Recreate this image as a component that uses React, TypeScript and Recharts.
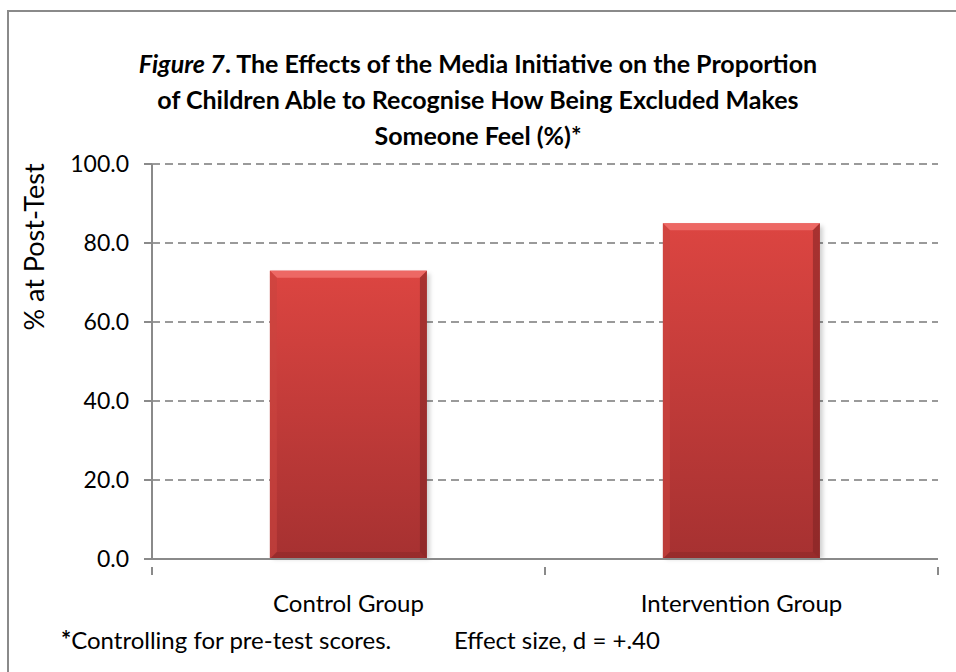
import React from 'react'
import { BarChart, Bar, XAxis, YAxis, CartesianGrid } from 'recharts'

// values
const groups = ['Control Group', 'Intervention Group']
const postTestPct = [73.0, 85.0]
const yTicks = [0, 20, 40, 60, 80, 100]

const chartData = groups.map((g, i) => ({ group: g, pct: postTestPct[i] }))

const FONT = 'Lato, "Open Sans", sans-serif'
const AXIS_GREY = '#8a8a8a'

const BevelBar = (props: any) => {
  const { x, y, width, height } = props
  if (!height || height <= 0) return null
  const b = Math.min(7, height / 2)
  return (
    <g>
      <rect x={x + 3} y={y + 3} width={width} height={height - 3} fill="rgba(0,0,0,0.18)" filter="url(#barShadow)" />
      <rect x={x} y={y} width={width} height={height} fill="url(#barGrad)" />
      {/* top bevel */}
      <polygon points={`${x},${y} ${x + width},${y} ${x + width - b},${y + b} ${x + b},${y + b}`} fill="#f06f6b" opacity={0.85} />
      {/* left bevel */}
      <polygon points={`${x},${y} ${x + b},${y + b} ${x + b},${y + height - b} ${x},${y + height}`} fill="#c94440" opacity={0.6} />
      {/* right bevel */}
      <polygon points={`${x + width},${y} ${x + width},${y + height} ${x + width - b},${y + height - b} ${x + width - b},${y + b}`} fill="#7e2222" opacity={0.55} />
      {/* bottom bevel */}
      <polygon points={`${x},${y + height} ${x + width},${y + height} ${x + width - b},${y + height - b} ${x + b},${y + height - b}`} fill="#8a2727" opacity={0.5} />
    </g>
  )
}

const GroupTick = (props: any) => {
  const { x, y, payload, index } = props
  const half = payload?.offset ?? 196.5
  return (
    <g>
      <line x1={x - half} y1={y} x2={x - half} y2={y + 8} stroke={AXIS_GREY} strokeWidth={2} />
      {index === groups.length - 1 && (
        <line x1={x + half} y1={y} x2={x + half} y2={y + 8} stroke={AXIS_GREY} strokeWidth={2} />
      )}
      <text x={x} y={y + 45} textAnchor="middle" fontSize={24} fontFamily={FONT} fill="#000">
        {payload.value}
      </text>
    </g>
  )
}

const YTitle = () => (
  <text
    x={44}
    y={247}
    transform="rotate(-90 44 247)"
    textAnchor="middle"
    fontSize={27}
    fontFamily={FONT}
    fill="#000"
  >
    % at Post-Test
  </text>
)

export default function App() {
  return (
    <div style={{ position: 'absolute', left: 0, top: 0, width: 956, height: 672, background: '#fff', overflow: 'hidden', fontFamily: FONT }}>
      <div style={{ position: 'absolute', left: 7, top: 10, width: 980, height: 700, border: `2px solid ${AXIS_GREY}`, boxSizing: 'border-box' }} />
      <div style={{ position: 'absolute', left: 0, top: 45, width: 956, textAlign: 'center', fontSize: 25, fontWeight: 700, lineHeight: '36px', color: '#000' }}>
        <div><i>Figure 7</i>. The Effects of the Media Initiative on the Proportion</div>
        <div>of Children Able to Recognise How Being Excluded Makes</div>
        <div>Someone Feel (%)*</div>
      </div>
      <div style={{ position: 'absolute', left: 0, top: 0 }}>
        <BarChart
          width={956}
          height={672}
          data={chartData}
          margin={{ top: 164, right: 18, bottom: 83, left: 60 }}
          barCategoryGap="30%"
        >
          <defs>
            <linearGradient id="barGrad" x1="0" y1="0" x2="0" y2="1">
              <stop offset="0%" stopColor="#dc4541" />
              <stop offset="100%" stopColor="#a63131" />
            </linearGradient>
            <filter id="barShadow" x="-10%" y="-10%" width="130%" height="130%">
              <feGaussianBlur stdDeviation="2" />
            </filter>
          </defs>
          <CartesianGrid vertical={false} stroke="#9a9a9a" strokeDasharray="8 5" strokeWidth={2} />
          <XAxis
            dataKey="group"
            height={30}
            axisLine={{ stroke: AXIS_GREY, strokeWidth: 2 }}
            tickLine={false}
            tick={<GroupTick />}
            interval={0}
          />
          <YAxis
            width={92}
            domain={[0, 100]}
            ticks={yTicks}
            tickFormatter={(v: number) => v.toFixed(1)}
            axisLine={{ stroke: AXIS_GREY, strokeWidth: 2 }}
            tickLine={{ stroke: AXIS_GREY, strokeWidth: 2 }}
            tickSize={8}
            tickMargin={15}
            tick={{ fontSize: 23, fontFamily: FONT, fill: '#000' }}
            label={<YTitle />}
          />
          <Bar dataKey="pct" shape={<BevelBar />} isAnimationActive={false} />
        </BarChart>
      </div>
      <div style={{ position: 'absolute', left: 61, top: 625, fontSize: 24, color: '#000', whiteSpace: 'pre' }}>
        <b>*</b>Controlling for pre-test scores.
      </div>
      <div style={{ position: 'absolute', left: 454, top: 625, fontSize: 24, color: '#000', whiteSpace: 'pre' }}>
        Effect size, d = +.40
      </div>
    </div>
  )
}
